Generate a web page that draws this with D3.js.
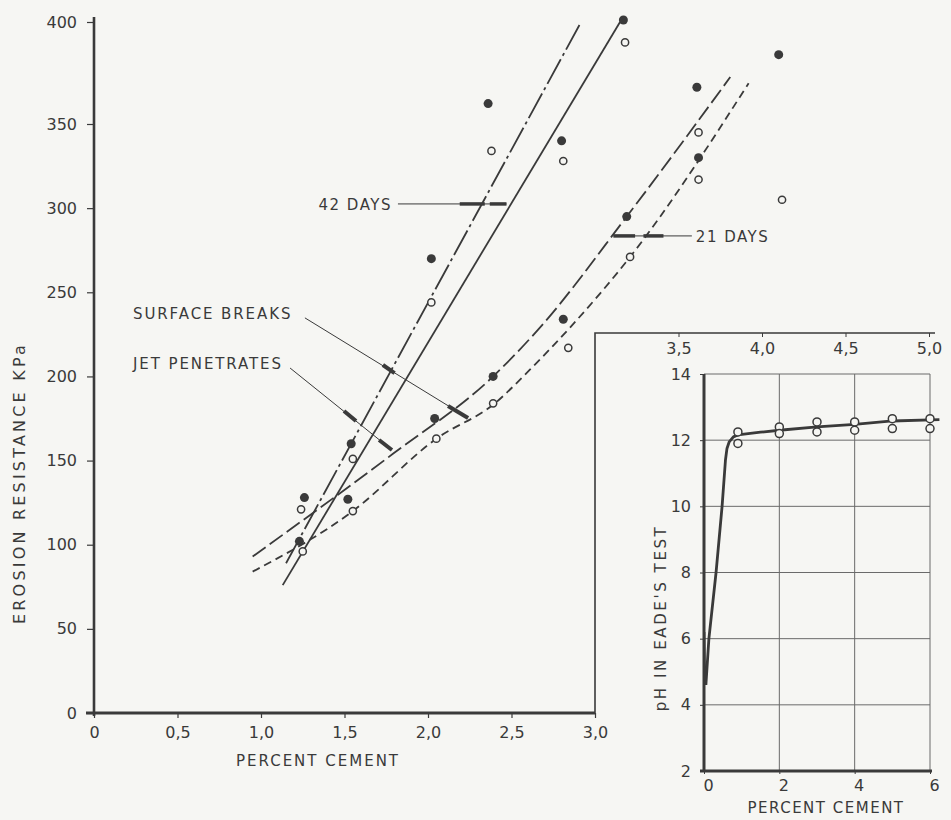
<!DOCTYPE html>
<html>
<head>
<meta charset="utf-8">
<script src="https://cdn.jsdelivr.net/npm/d3@7"></script>
<style>
  body { margin: 0; background: #f6f6f3; }
  svg { display: block; }
  text { font-family: 'DejaVu Sans', sans-serif; fill: #3a3a3a; }
</style>
</head>
<body>
<div id="chart"></div>
<script>
// main chart: erosion resistance vs percent cement
const xTicks = [0, 0.5, 1.0, 1.5, 2.0, 2.5, 3.0];
const xTopTicks = [3.5, 4.0, 4.5, 5.0];
const yTicks = [0, 50, 100, 150, 200, 250, 300, 350, 400];

// solid dots (x %, kPa)
const filledPts = [
  [1.26, 128], [1.23, 102], [1.52, 127], [1.54, 160], [2.04, 175], [2.39, 200],
  [2.02, 270], [2.36, 360], [2.80, 340], [3.17, 401], [3.61, 368], [3.62, 330],
  [4.10, 384], [3.19, 295], [2.81, 234]
];
// open circles
const openPts = [
  [1.24, 121], [1.25, 96], [1.55, 120], [1.55, 151], [2.05, 163], [2.39, 184],
  [2.02, 244], [2.38, 334], [2.81, 328], [3.18, 390], [3.62, 345], [3.62, 317],
  [4.12, 305], [3.21, 271], [2.84, 217]
];

// fitted lines
const days42DashDot = [[1.15, 89], [2.91, 399]];
const days42Solid = [[1.13, 76], [3.15, 400]];
const days21LongDash = [[0.95, 93], [1.79, 154], [2.39, 200], [2.67, 229], [3.19, 295], [3.81, 373]];
const days21ShortDash = [[0.95, 84], [1.55, 120], [2.05, 163], [2.40, 184], [2.61, 204], [2.85, 229], [3.21, 271], [3.92, 370]];

// annotation leaders, in data units
const leader42 = { from: [1.82, 302.5], to: [2.47, 302.5], thick: [[2.19, 2.34], [2.37, 2.47]], text: '42 DAYS' };
const leader21 = { from: [3.11, 283.5], to: [3.58, 283.5], thick: [[3.11, 3.24], [3.29, 3.41]], text: '21 DAYS' };
const surfaceLeader = [[1.263, 234.8], [2.24, 175.3]];
const surfaceThick = [[[1.73, 206.8], [1.80, 202.0]], [[2.12, 182.4], [2.24, 175.3]]];
const jetLeader = [[1.174, 205.0], [1.784, 156.3]];
const jetThick = [[[1.497, 179.5], [1.569, 173.5]], [[1.707, 162.2], [1.784, 156.3]]];

// inset: pH in Eade's test
const phXTicks = [0, 2, 4, 6];
const phYTicks = [2, 4, 6, 8, 10, 12, 14];
const phCurve = [
  [0.05, 4.6], [0.13, 6], [0.32, 8], [0.48, 10], [0.57, 11.4], [0.61, 11.75],
  [0.67, 11.95], [0.78, 12.1], [0.9, 12.16], [1.5, 12.24], [2, 12.3], [3, 12.4],
  [4, 12.48], [5, 12.58], [6.25, 12.62]
];
const phBranch = [[0.05, 4.6], [0.02, 5.3], [0.01, 6.2]];
const phPts = [
  [0.9, 12.25], [0.9, 11.9], [2, 12.4], [2, 12.2], [3, 12.55], [3, 12.25],
  [4, 12.55], [4, 12.3], [5, 12.65], [5, 12.35], [6, 12.65], [6, 12.35]
];

const W = 951, H = 820;
const ink = '#3a3a3a';
const svg = d3.select('#chart').append('svg').attr('width', W).attr('height', H);

const x = d3.scaleLinear().domain([0, 5]).range([94, 929]);
const y = d3.scaleLinear().domain([0, 350, 400]).range([713, 124, 22]);
const px = d3.scaleLinear().domain([0, 6]).range([704, 930]);
const py = d3.scaleLinear().domain([2, 14]).range([771, 374]);

const comma = d => d === 0 ? '0' : d.toFixed(1).replace('.', ',');
const labelStyle = (sel, size, spacing) => sel.style('font-size', size + 'px').style('letter-spacing', spacing + 'px');

/******** main axes ********/
const yAxis = svg.append('g')
  .attr('transform', 'translate(' + x(0) + ',0)')
  .call(d3.axisLeft(y).tickValues(yTicks).tickSize(7).tickPadding(10).tickFormat(d3.format('d')));
yAxis.select('.domain').remove();
yAxis.selectAll('line').attr('stroke', ink).attr('stroke-width', 1.2);
yAxis.selectAll('text').style('font-size', '16px').attr('fill', ink);

const xAxis = svg.append('g')
  .attr('transform', 'translate(0,' + y(0) + ')')
  .call(d3.axisBottom(x).tickValues(xTicks).tickSize(5).tickPadding(9).tickFormat(comma));
xAxis.select('.domain').remove();
xAxis.selectAll('line').attr('stroke', ink).attr('stroke-width', 1.2);
xAxis.selectAll('text').style('font-size', '16px').attr('fill', ink);

// axis lines
svg.append('line').attr('x1', x(0)).attr('x2', x(0)).attr('y1', 17).attr('y2', y(0) + 3)
  .attr('stroke', ink).attr('stroke-width', 2.6);
svg.append('line').attr('x1', x(0) - 8).attr('x2', x(3)).attr('y1', y(0)).attr('y2', y(0))
  .attr('stroke', ink).attr('stroke-width', 3);

// inset frame, carrying the rest of the percent axis
const frameTop = 333;
svg.append('path')
  .attr('d', 'M' + x(3) + ',' + y(0) + 'V' + frameTop + 'H935')
  .attr('fill', 'none').attr('stroke', ink).attr('stroke-width', 1.6);
const topAxis = svg.append('g')
  .attr('transform', 'translate(0,' + frameTop + ')')
  .call(d3.axisBottom(x).tickValues(xTopTicks).tickSize(4).tickPadding(6).tickFormat(comma));
topAxis.select('.domain').remove();
topAxis.selectAll('line').attr('stroke', ink);
topAxis.selectAll('text').style('font-size', '16px').attr('fill', ink);

labelStyle(svg.append('text').attr('x', 318).attr('y', 766).attr('text-anchor', 'middle'), 15, 2)
  .text('PERCENT CEMENT');
labelStyle(svg.append('text').attr('transform', 'translate(25,483) rotate(-90)').attr('text-anchor', 'middle'), 16, 3.2)
  .text('EROSION  RESISTANCE  KPa');

/******** fitted lines ********/
const line = d3.line().x(d => x(d[0])).y(d => y(d[1]));
const smooth = d3.line().x(d => x(d[0])).y(d => y(d[1])).curve(d3.curveMonotoneX);
const lineDefs = [
  { data: days42DashDot, gen: line, dash: '28,4,3,4' },
  { data: days42Solid, gen: line, dash: null },
  { data: days21LongDash, gen: smooth, dash: '16,5' },
  { data: days21ShortDash, gen: smooth, dash: '8,5' }
];
lineDefs.forEach(l => {
  svg.append('path').datum(l.data)
    .attr('d', l.gen)
    .attr('fill', 'none').attr('stroke', ink).attr('stroke-width', 1.8)
    .attr('stroke-dasharray', l.dash);
});

/******** points ********/
svg.selectAll('.open').data(openPts).enter().append('circle')
  .attr('class', 'open')
  .attr('cx', d => x(d[0])).attr('cy', d => y(d[1])).attr('r', 3.6)
  .attr('fill', '#f6f6f3').attr('stroke', ink).attr('stroke-width', 1.5);
svg.selectAll('.filled').data(filledPts).enter().append('circle')
  .attr('class', 'filled')
  .attr('cx', d => x(d[0])).attr('cy', d => y(d[1])).attr('r', 4.5)
  .attr('fill', ink);

/******** annotations ********/
function seg(a, b, w) {
  svg.append('line').attr('x1', x(a[0])).attr('y1', y(a[1])).attr('x2', x(b[0])).attr('y2', y(b[1]))
    .attr('stroke', ink).attr('stroke-width', w);
}
[leader42, leader21].forEach(l => {
  seg(l.from, l.to, 1);
  l.thick.forEach(t => seg([t[0], l.from[1]], [t[1], l.from[1]], 3.5));
});
labelStyle(svg.append('text').attr('x', x(leader42.from[0]) - 6).attr('y', y(leader42.from[1]) + 6)
  .attr('text-anchor', 'end'), 15, 1.5).text(leader42.text);
labelStyle(svg.append('text').attr('x', x(leader21.to[0]) + 4).attr('y', y(leader21.to[1]) + 6), 15, 1.5)
  .text(leader21.text);

seg(surfaceLeader[0], surfaceLeader[1], 1);
surfaceThick.forEach(t => seg(t[0], t[1], 4));
seg(jetLeader[0], jetLeader[1], 1);
jetThick.forEach(t => seg(t[0], t[1], 4));
labelStyle(svg.append('text').attr('x', 133).attr('y', 319), 15, 1.9).text('SURFACE BREAKS');
labelStyle(svg.append('text').attr('x', 133).attr('y', 369), 15, 1.9).text('JET PENETRATES');

/******** inset ********/
const g = svg.append('g');
g.selectAll('.hgrid').data(phYTicks.slice(1)).enter().append('line')
  .attr('x1', px(0)).attr('x2', px(6)).attr('y1', d => py(d)).attr('y2', d => py(d))
  .attr('stroke', '#6a6a6a').attr('stroke-width', 1);
g.selectAll('.vgrid').data(phXTicks.slice(1)).enter().append('line')
  .attr('x1', d => px(d)).attr('x2', d => px(d)).attr('y1', py(14)).attr('y2', py(2))
  .attr('stroke', '#6a6a6a').attr('stroke-width', 1);

const pyAxis = g.append('g').attr('transform', 'translate(' + px(0) + ',0)')
  .call(d3.axisLeft(py).tickValues(phYTicks).tickSize(4).tickPadding(9).tickFormat(d3.format('d')));
pyAxis.select('.domain').remove();
pyAxis.selectAll('line').attr('stroke', ink);
pyAxis.selectAll('text').style('font-size', '16px').attr('fill', ink);

const pxAxis = g.append('g').attr('transform', 'translate(0,' + py(2) + ')')
  .call(d3.axisBottom(px).tickValues(phXTicks).tickSize(3).tickPadding(6).tickFormat(d3.format('d')));
pxAxis.select('.domain').remove();
pxAxis.selectAll('line').attr('stroke', ink);
pxAxis.selectAll('text').style('font-size', '16px').attr('fill', ink).attr('dx', 4);

g.append('line').attr('x1', px(0)).attr('x2', px(0)).attr('y1', py(14)).attr('y2', py(2))
  .attr('stroke', ink).attr('stroke-width', 3);
g.append('line').attr('x1', px(0) - 4).attr('x2', px(6) + 2).attr('y1', py(2)).attr('y2', py(2))
  .attr('stroke', ink).attr('stroke-width', 3);

const phLine = d3.line().x(d => px(d[0])).y(d => py(d[1]));
g.append('path').datum(phCurve).attr('d', phLine)
  .attr('fill', 'none').attr('stroke', ink).attr('stroke-width', 2.8).attr('stroke-linejoin', 'round');
g.append('path').datum(phBranch).attr('d', phLine)
  .attr('fill', 'none').attr('stroke', ink).attr('stroke-width', 2);
g.selectAll('.ph').data(phPts).enter().append('circle')
  .attr('cx', d => px(d[0])).attr('cy', d => py(d[1])).attr('r', 4)
  .attr('fill', '#f6f6f3').attr('stroke', ink).attr('stroke-width', 1.5);

labelStyle(g.append('text').attr('x', 826).attr('y', 813).attr('text-anchor', 'middle'), 15, 1.5)
  .text('PERCENT CEMENT');
labelStyle(g.append('text').attr('transform', 'translate(666,618) rotate(-90)').attr('text-anchor', 'middle'), 15, 2.6)
  .text("pH IN EADE'S TEST");
</script>
</body>
</html>
